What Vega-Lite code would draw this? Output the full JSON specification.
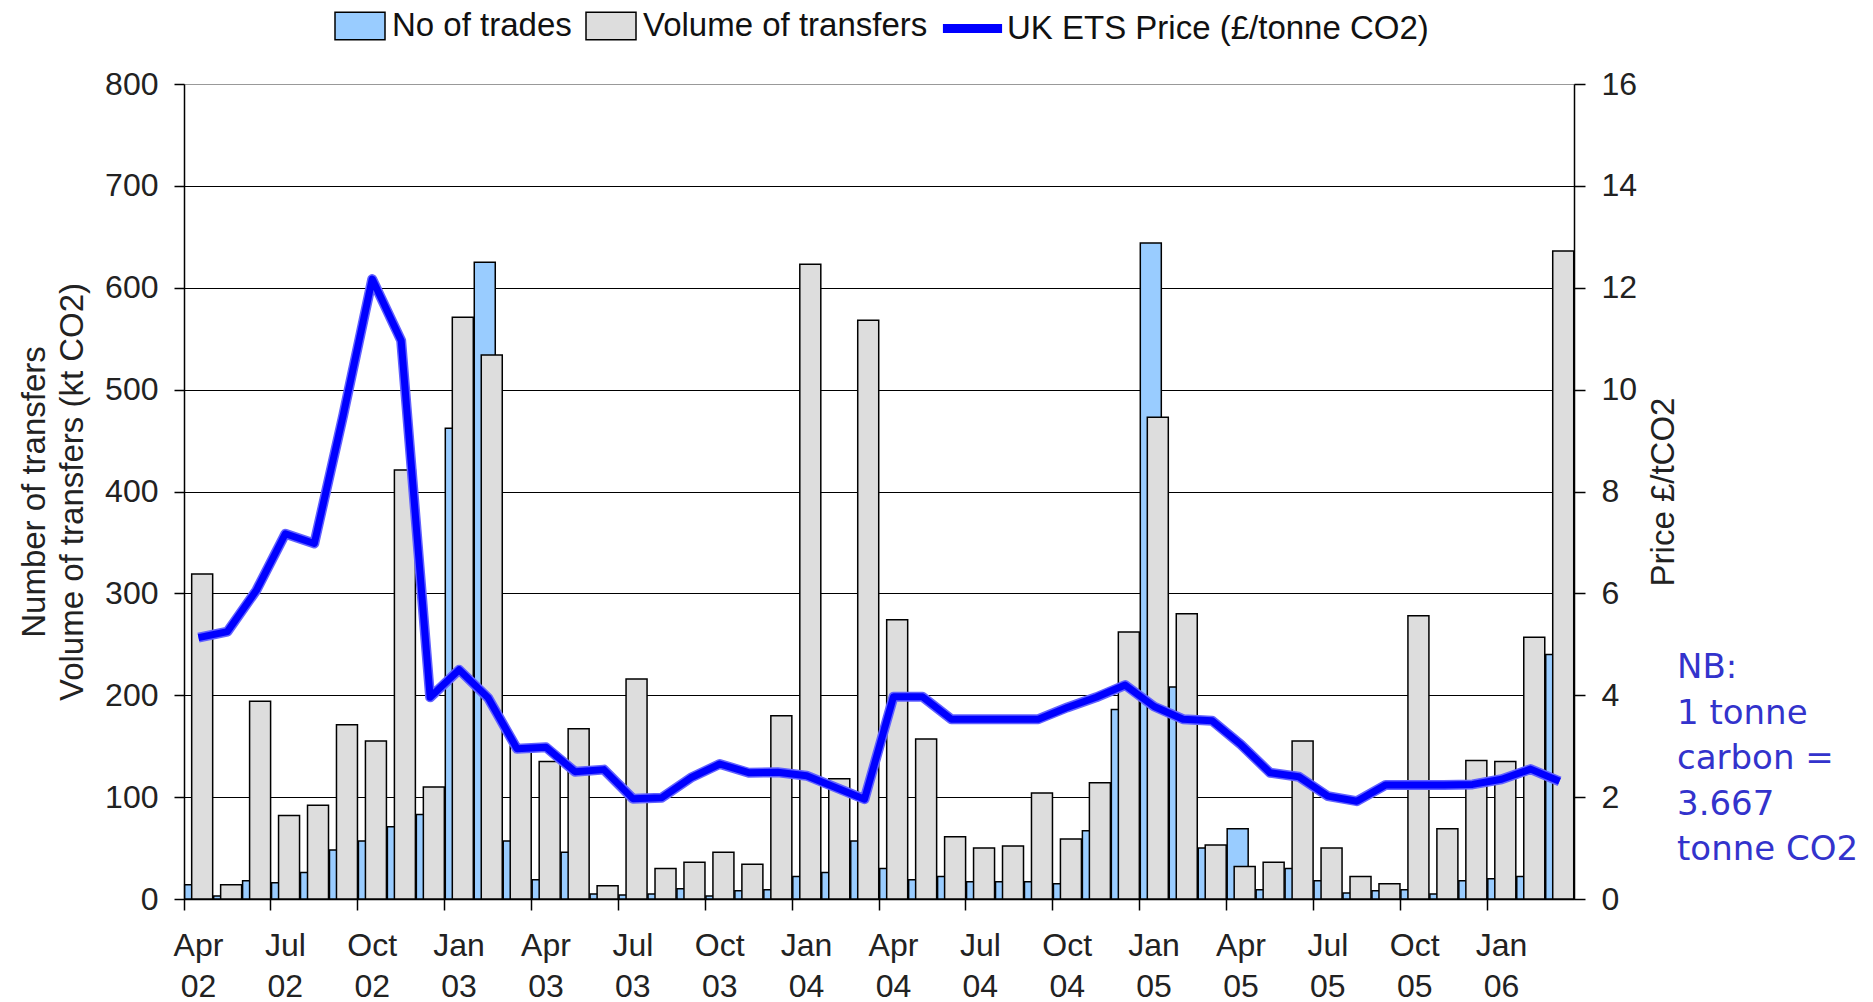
{
  "$schema": "https://vega.github.io/schema/vega-lite/v6.json",
  "width": 1390,
  "height": 815,
  "autosize": {"type": "none"},
  "padding": {"left": 184, "top": 84, "right": 299, "bottom": 103},
  "background": "white",
  "config": {
    "view": {"stroke": "#999999", "strokeWidth": 1},
    "font": "Liberation Sans"
  },
  "title": {
    "text": ["NB:", "1 tonne", "carbon =", "3.667", "tonne CO2"],
    "orient": "top",
    "anchor": "end",
    "frame": "group",
    "align": "left",
    "baseline": "top",
    "dx": 103,
    "dy": 873,
    "offset": 0,
    "font": "DejaVu Sans",
    "fontSize": 34,
    "fontWeight": "normal",
    "color": "#3333cc",
    "lineHeight": 45.5
  },
  "data": {
    "values": [
      {"month": "Apr 02", "trades": 14, "volume": 319, "price": 5.13},
      {"month": "May 02", "trades": 3, "volume": 14, "price": 5.25},
      {"month": "Jun 02", "trades": 18, "volume": 194, "price": 6.06},
      {"month": "Jul 02", "trades": 16, "volume": 82, "price": 7.17},
      {"month": "Aug 02", "trades": 26, "volume": 92, "price": 6.98},
      {"month": "Sep 02", "trades": 48, "volume": 171, "price": 9.5},
      {"month": "Oct 02", "trades": 57, "volume": 155, "price": 12.17},
      {"month": "Nov 02", "trades": 71, "volume": 421, "price": 10.96},
      {"month": "Dec 02", "trades": 83, "volume": 110, "price": 3.96},
      {"month": "Jan 03", "trades": 462, "volume": 571, "price": 4.5},
      {"month": "Feb 03", "trades": 625, "volume": 534, "price": 3.95},
      {"month": "Mar 03", "trades": 57, "volume": 150, "price": 2.95},
      {"month": "Apr 03", "trades": 19, "volume": 135, "price": 2.98},
      {"month": "May 03", "trades": 46, "volume": 167, "price": 2.5},
      {"month": "Jun 03", "trades": 5, "volume": 13, "price": 2.54},
      {"month": "Jul 03", "trades": 4, "volume": 216, "price": 1.97},
      {"month": "Aug 03", "trades": 5, "volume": 30, "price": 1.99},
      {"month": "Sep 03", "trades": 10, "volume": 36, "price": 2.38},
      {"month": "Oct 03", "trades": 3, "volume": 46, "price": 2.65},
      {"month": "Nov 03", "trades": 8, "volume": 34, "price": 2.48},
      {"month": "Dec 03", "trades": 9, "volume": 180, "price": 2.49},
      {"month": "Jan 04", "trades": 22, "volume": 623, "price": 2.42},
      {"month": "Feb 04", "trades": 26, "volume": 118, "price": 2.19},
      {"month": "Mar 04", "trades": 57, "volume": 568, "price": 1.96},
      {"month": "Apr 04", "trades": 30, "volume": 274, "price": 3.97},
      {"month": "May 04", "trades": 19, "volume": 157, "price": 3.97},
      {"month": "Jun 04", "trades": 22, "volume": 61, "price": 3.53},
      {"month": "Jul 04", "trades": 17, "volume": 50, "price": 3.53},
      {"month": "Aug 04", "trades": 17, "volume": 52, "price": 3.53},
      {"month": "Sep 04", "trades": 17, "volume": 104, "price": 3.53},
      {"month": "Oct 04", "trades": 15, "volume": 59, "price": 3.76},
      {"month": "Nov 04", "trades": 67, "volume": 114, "price": 3.96},
      {"month": "Dec 04", "trades": 186, "volume": 262, "price": 4.2},
      {"month": "Jan 05", "trades": 644, "volume": 473, "price": 3.78},
      {"month": "Feb 05", "trades": 208, "volume": 280, "price": 3.53},
      {"month": "Mar 05", "trades": 50, "volume": 53, "price": 3.5},
      {"month": "Apr 05", "trades": 69, "volume": 32, "price": 3.03},
      {"month": "May 05", "trades": 9, "volume": 36, "price": 2.48},
      {"month": "Jun 05", "trades": 30, "volume": 155, "price": 2.4},
      {"month": "Jul 05", "trades": 18, "volume": 50, "price": 2.02},
      {"month": "Aug 05", "trades": 6, "volume": 22, "price": 1.92},
      {"month": "Sep 05", "trades": 8, "volume": 15, "price": 2.24},
      {"month": "Oct 05", "trades": 9, "volume": 278, "price": 2.24},
      {"month": "Nov 05", "trades": 5, "volume": 69, "price": 2.24},
      {"month": "Dec 05", "trades": 18, "volume": 136, "price": 2.25},
      {"month": "Jan 06", "trades": 20, "volume": 135, "price": 2.35},
      {"month": "Feb 06", "trades": 22, "volume": 257, "price": 2.55},
      {"month": "Mar 06", "trades": 240, "volume": 636, "price": 2.31}
    ]
  },
  "layer": [
    {
      "layer": [
        {
          "mark": {"type": "bar", "stroke": "black", "strokeWidth": 1.5, "width": 21, "xOffset": -3.3},
          "encoding": {
            "x": {
              "field": "month",
              "type": "ordinal",
              "sort": null,
              "scale": {"paddingInner": 0, "paddingOuter": 0},
              "axis": {
                "title": null,
                "values": ["Apr 02", "Jul 02", "Oct 02", "Jan 03", "Apr 03", "Jul 03", "Oct 03", "Jan 04", "Apr 04", "Jul 04", "Oct 04", "Jan 05", "Apr 05", "Jul 05", "Oct 05", "Jan 06"],
                "bandPosition": 0,
                "labelExpr": "split(datum.value, ' ')",
                "labelLineHeight": 41,
                "labelAngle": 0,
                "labelFont": "Liberation Sans",
                "labelFontSize": 32,
                "labelColor": "#222222",
                "domainColor": "black",
                "domainWidth": 1.5,
                "tickColor": "black",
                "tickWidth": 1.5,
                "tickSize": 11,
                "labelPadding": 20,
                "grid": false
              }
            },
            "y": {
              "field": "trades",
              "type": "quantitative",
              "scale": {"domain": [0, 800], "nice": false},
              "axis": {
                "title": ["Number of transfers", "Volume of transfers (kt CO2)"],
                "titleFont": "Liberation Sans",
                "titleFontSize": 33,
                "titleFontWeight": "normal",
                "titleColor": "#222222",
                "titleLineHeight": 38,
                "titlePadding": 15,
                "values": [0, 100, 200, 300, 400, 500, 600, 700, 800],
                "grid": true,
                "gridColor": {"condition": {"test": "datum.value === 800", "value": "#999999"}, "value": "black"},
                "gridWidth": 1.2,
                "labelFont": "Liberation Sans",
                "labelFontSize": 32,
                "labelColor": "#222222",
                "domainColor": "black",
                "domainWidth": 1.5,
                "tickColor": "black",
                "tickWidth": 1.5,
                "tickSize": 10,
                "labelPadding": 16
              }
            },
            "fill": {
              "datum": "No of trades",
              "type": "nominal",
              "scale": {
                "domain": ["No of trades", "Volume of transfers"],
                "range": ["#99ccff", "#dddddd"]
              },
              "legend": {
                "title": null,
                "orient": "none",
                "legendX": 150,
                "legendY": -84,
                "direction": "horizontal",
                "padding": 0,
                "labelFont": "Liberation Sans",
                "labelFontSize": 33,
                "labelColor": "#111111",
                "labelLimit": 1000,
                "labelOffset": 6,
                "columnPadding": 11,
                "symbolSize": 2500,
                "symbolType": "M-1,-0.55H1V0.55H-1Z",
                "symbolStrokeColor": "black",
                "symbolStrokeWidth": 1.5,
                "symbolOpacity": 1
              }
            }
          }
        },
        {
          "mark": {"type": "bar", "stroke": "black", "strokeWidth": 1.5, "width": 21, "xOffset": 3.7},
          "encoding": {
            "x": {"field": "month", "type": "ordinal", "sort": null},
            "y": {"field": "volume", "type": "quantitative"},
            "fill": {"datum": "Volume of transfers", "type": "nominal"}
          }
        }
      ]
    },
    {
      "layer": [
        {
          "mark": {"type": "line", "color": "#6262ff", "strokeWidth": 10, "strokeJoin": "round", "strokeCap": "butt"},
          "encoding": {
            "x": {"field": "month", "type": "ordinal", "sort": null},
            "y": {"field": "price", "type": "quantitative", "scale": {"domain": [0, 16], "nice": false}}
          }
        },
        {
          "mark": {"type": "line", "strokeWidth": 7, "strokeJoin": "round", "strokeCap": "butt", "opacity": 1},
          "encoding": {
            "x": {"field": "month", "type": "ordinal", "sort": null},
            "y": {
              "field": "price",
              "type": "quantitative",
              "axis": {
                "orient": "right",
                "title": "Price £/tCO2",
                "titleFont": "Liberation Sans",
                "titleFontSize": 33,
                "titleFontWeight": "normal",
                "titleColor": "#222222",
                "titleAngle": 270,
                "titleBaseline": "top",
                "titlePadding": 11,
                "values": [0, 2, 4, 6, 8, 10, 12, 14, 16],
                "grid": false,
                "labelFont": "Liberation Sans",
                "labelFontSize": 32,
                "labelColor": "#222222",
                "domainColor": "black",
                "domainWidth": 1.5,
                "tickColor": "black",
                "tickWidth": 1.5,
                "tickSize": 11,
                "labelPadding": 16
              }
            },
            "stroke": {
              "datum": "UK ETS Price (£/tonne CO2)",
              "type": "nominal",
              "scale": {"domain": ["UK ETS Price (£/tonne CO2)"], "range": ["#0000ff"]},
              "legend": {
                "title": null,
                "orient": "none",
                "legendX": 754,
                "legendY": -90,
                "direction": "horizontal",
                "padding": 0,
                "labelFont": "Liberation Sans",
                "labelFontSize": 33,
                "labelColor": "#111111",
                "labelLimit": 1000,
                "labelOffset": 0,
                "symbolType": "stroke",
                "symbolSize": 3500,
                "symbolStrokeWidth": 9,
                "symbolOpacity": 1
              }
            }
          }
        }
      ]
    }
  ],
  "resolve": {"scale": {"y": "independent"}}
}
